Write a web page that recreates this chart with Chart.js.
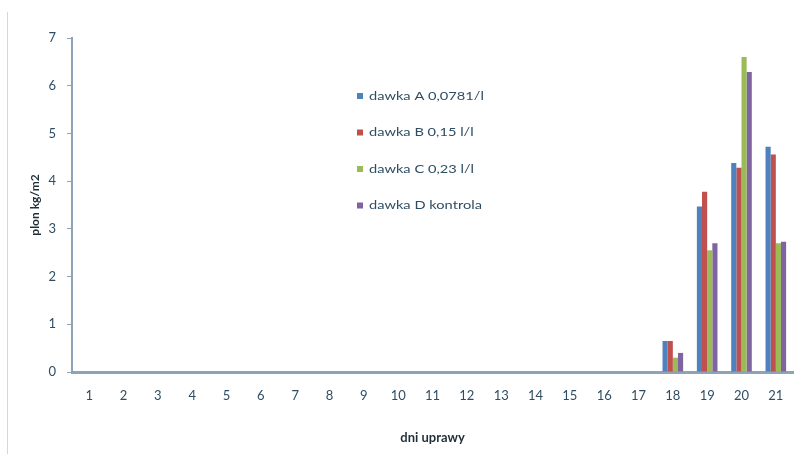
<!DOCTYPE html>
<html>
<head>
<meta charset="utf-8">
<script src="https://cdn.jsdelivr.net/npm/chart.js@4.4.1/dist/chart.umd.min.js"></script>
<style>
  html, body { margin: 0; padding: 0; background: #fff; }
  #wrap { position: relative; width: 795px; height: 454px; }
  #edge { position: absolute; left: 7px; top: 12px; width: 1px; height: 442px; background: #d6d6d6; }
  canvas { position: absolute; left: 0; top: 0; }
</style>
</head>
<body>
<div id="wrap">
  <div id="edge"></div>
  <canvas id="c" width="795" height="454"></canvas>
</div>
<script>
// Days of cultivation
const days = ['1','2','3','4','5','6','7','8','9','10','11','12','13','14','15','16','17','18','19','20','21'];

// Yield (kg/m2) for each dose
const doseA = [0,0,0,0,0,0,0,0,0,0,0,0,0,0,0,0,0,0.65,3.47,4.38,4.72];
const doseB = [0,0,0,0,0,0,0,0,0,0,0,0,0,0,0,0,0,0.65,3.78,4.28,4.56];
const doseC = [0,0,0,0,0,0,0,0,0,0,0,0,0,0,0,0,0,0.30,2.55,6.60,2.70];
const doseD = [0,0,0,0,0,0,0,0,0,0,0,0,0,0,0,0,0,0.40,2.70,6.29,2.73];

const seriesLabels = ['dawka A 0,0781/l', 'dawka B 0,15 l/l', 'dawka C 0,23 l/l', 'dawka D kontrola'];
const seriesColors = ['#4F81BD', '#C0504D', '#9BBB59', '#8064A2'];
const yTicks = [0,1,2,3,4,5,6,7];

const textColor = '#2f4d62';
const axisColor = '#8ea3b5';
const fontFamily = 'Lato, "Open Sans", sans-serif';

// Legend drawn inside the plot area, as a vertical list (slightly widened lettering)
const innerLegend = {
  id: 'innerLegend',
  afterDraw(chart) {
    const ctx = chart.ctx;
    const x0 = 357, y0 = 96, step = 36.5;
    ctx.save();
    ctx.font = '12px ' + fontFamily;
    ctx.textBaseline = 'middle';
    chart.data.datasets.forEach((ds, i) => {
      const y = y0 + i * step;
      ctx.fillStyle = ds.backgroundColor;
      ctx.fillRect(x0, y - 3, 6, 6);
      ctx.save();
      ctx.translate(x0 + 12, y);
      ctx.scale(1.22, 1);
      ctx.fillStyle = textColor;
      ctx.fillText(ds.label, 0, 0);
      ctx.restore();
    });
    ctx.restore();
  }
};

const datasets = [doseA, doseB, doseC, doseD].map((vals, i) => ({
  label: seriesLabels[i],
  data: vals,
  backgroundColor: seriesColors[i],
  borderWidth: 0,
  categoryPercentage: 0.6,
  barPercentage: 1.0
}));

new Chart(document.getElementById('c'), {
  type: 'bar',
  data: { labels: days, datasets },
  plugins: [innerLegend],
  options: {
    responsive: false,
    animation: false,
    layout: { padding: { top: 38, right: 2, left: 24, bottom: 0 } },
    plugins: {
      legend: { display: false },
      tooltip: { enabled: false }
    },
    scales: {
      x: {
        grid: { display: false, offset: true },
        border: { display: true, color: axisColor, width: 3 },
        ticks: {
          color: textColor,
          font: { family: fontFamily, size: 13 },
          padding: 8,
          maxRotation: 0,
          autoSkip: false
        },
        title: {
          display: true,
          text: 'dni uprawy',
          color: '#1f2f3a',
          font: { family: fontFamily, size: 13, weight: 'bold' },
          padding: { top: 20, bottom: 8 }
        },
        afterFit(scale) { scale.height = 82; }
      },
      y: {
        min: 0,
        max: 7,
        afterBuildTicks(scale) { scale.ticks = yTicks.map(v => ({ value: v })); },
        grid: {
          drawOnChartArea: false,
          drawTicks: true,
          tickLength: 5,
          color: axisColor,
          lineWidth: 1
        },
        border: { display: true, color: axisColor, width: 2 },
        ticks: {
          color: textColor,
          font: { family: fontFamily, size: 13 },
          padding: 11
        },
        title: {
          display: true,
          text: 'plon kg/m2',
          color: '#1f2f3a',
          font: { family: fontFamily, size: 12, weight: 'bold' },
          padding: { top: 4, bottom: 4 }
        },
        afterFit(scale) { scale.width = 48; }
      }
    }
  }
});
</script>
</body>
</html>
